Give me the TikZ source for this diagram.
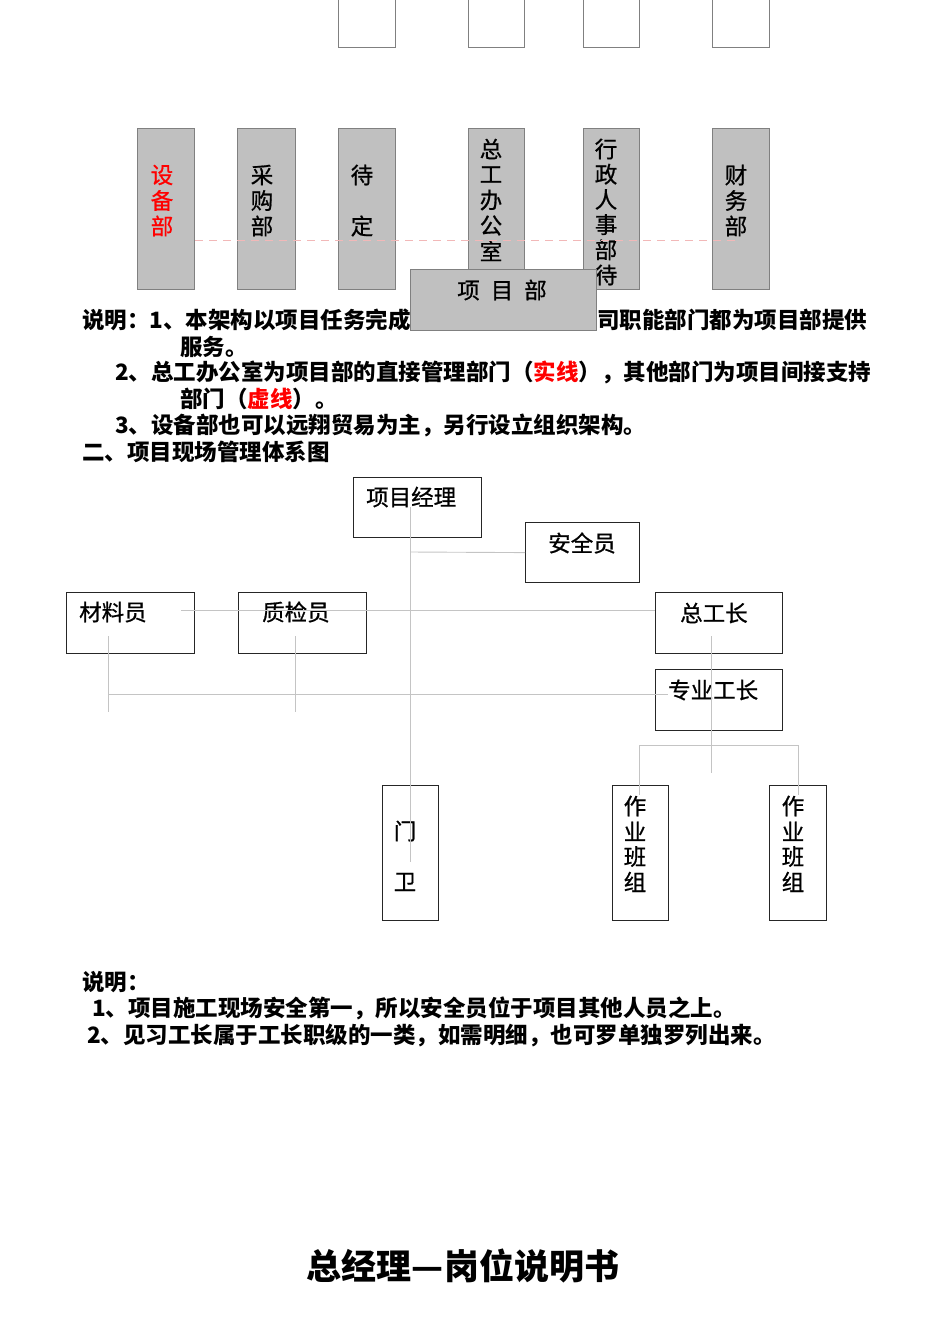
\documentclass[tikz,border=0pt]{standalone}
\usepackage{fontspec}
\setmainfont{Noto Sans CJK SC}
\newfontfamily\boxfont{Noto Sans CJK SC}[FakeBold=0.8]
\definecolor{boxgray}{HTML}{C0C0C0}
\definecolor{edgegray}{HTML}{808080}
\definecolor{linegray}{HTML}{C4C4C4}
\definecolor{dashpink}{HTML}{F2B8B8}
\definecolor{redtxt}{HTML}{FF0000}
\tikzset{
  graybox/.style={draw=edgegray, fill=boxgray, line width=1.4pt, anchor=north west, inner sep=0},
  topbox/.style={draw=edgegray, fill=white, line width=1.2pt, anchor=north west, inner sep=0},
  orgbox/.style={draw=black!85, fill=white, line width=1.2pt, anchor=north west, inner sep=0},
  conn/.style={draw=linegray, line width=0.9pt},
  dashline/.style={draw=dashpink, line width=0.9pt, dash pattern=on 8pt off 6pt},
  txt/.style={font=\fontsize{22.5}{26}\selectfont\boxfont, inner sep=0},
  note/.style={font=\fontsize{22.5}{26}\selectfont\bfseries, inner sep=0, anchor=west},
  title/.style={font=\fontsize{35}{40}\selectfont\bfseries, inner sep=0}
}
\begin{document}
\begin{tikzpicture}[x=1pt,y=-1pt]
\useasboundingbox (0,0) rectangle (950,1344);
% top cut boxes
\node[topbox, minimum width=57, minimum height=60] (t1) at (338,-13) {};
\node[topbox, minimum width=56, minimum height=60] (t2) at (468,-13) {};
\node[topbox, minimum width=56, minimum height=60] (t3) at (583,-13) {};
\node[topbox, minimum width=57, minimum height=60] (t4) at (712,-13) {};
% gray department boxes
\node[graybox, minimum width=57, minimum height=161] (sb) at (137,128) {};
\node[graybox, minimum width=58, minimum height=161] (cg) at (237,128) {};
\node[graybox, minimum width=57, minimum height=161] (dd) at (338,128) {};
\node[graybox, minimum width=56, minimum height=161] (zg) at (468,128) {};
\node[graybox, minimum width=56, minimum height=161] (xz) at (583,128) {};
\node[graybox, minimum width=57, minimum height=161] (cw) at (712,128) {};
\foreach \c [count=\i] in {设,备,部}
  \node[txt, text=redtxt] (sbt\i) at (162,175+25.5*\i-25.5) {\c};
\foreach \c [count=\i] in {采,购,部}
  \node[txt] (cgt\i) at (262,175+25.5*\i-25.5) {\c};
\node[txt] (ddt1) at (362,175) {待};
\node[txt] (ddt2) at (362,226) {定};
\foreach \c [count=\i] in {总,工,办,公,室}
  \node[txt] (zgt\i) at (491,149+25.5*\i-25.5) {\c};
\begin{scope}
\clip (583,128) rectangle (639,288);
\foreach \c [count=\i] in {行,政,人,事,部,待}
  \node[txt] (xzt\i) at (606,149+25.2*\i-25.2) {\c};
\end{scope}
\foreach \c [count=\i] in {财,务,部}
  \node[txt] (cwt\i) at (736,175+25.5*\i-25.5) {\c};
% dashed indirect line
\coordinate (dl) at (195,240);
\coordinate (dr) at (735,240);
\draw[dashline] (dl) -- (dr);
% notes line 1 (partly covered)
\node[note] (n1a) at (82,320) {说明：1、本架构以项目任务完成};
\node[note] (n1b) at (597,320) {司职能部门都为项目部提供};
% project box
\node[graybox, minimum width=186, minimum height=61] (xm) at (410,269) {};
\node[txt] (xmt) at (502,290) {项\hspace{11pt}目\hspace{11pt}部};
% notes
\node[note] (n2) at (180,347) {服务。};
\node[note] (n3) at (115,372) {2、总工办公室为项目部的直接管理部门（\textcolor{redtxt}{实线}），其他部门为项目间接支持};
\node[note] (n4) at (180,399) {部门（\textcolor{redtxt}{虚线}）。};
\node[note] (n5) at (115,425) {3、设备部也可以远翔贸易为主，另行设立组织架构。};
\node[note] (n6) at (82,452) {二、项目现场管理体系图};
% org chart boxes
\node[orgbox, minimum width=128, minimum height=60] (pm) at (353,477) {};
\node[orgbox, minimum width=114, minimum height=60] (aq) at (525,522) {};
\node[orgbox, minimum width=128, minimum height=61] (cl) at (66,592) {};
\node[orgbox, minimum width=128, minimum height=61] (zj) at (238,592) {};
\node[orgbox, minimum width=127, minimum height=61] (zgz) at (655,592) {};
\node[orgbox, minimum width=127, minimum height=61] (zy) at (655,669) {};
\node[orgbox, minimum width=56, minimum height=135] (mw) at (382,785) {};
\node[orgbox, minimum width=56, minimum height=135] (zb1) at (612,785) {};
\node[orgbox, minimum width=57, minimum height=135] (zb2) at (769,785) {};
% org texts
\node[txt, anchor=west] (pmt) at (366,497) {项目经理};
\node[txt] (aqt) at (582,543) {安全员};
\node[txt, anchor=west] (clt) at (79,612) {材料员};
\node[txt, anchor=west] (zjt) at (262,612) {质检员};
\node[txt, anchor=west] (zgzt) at (680,613) {总工长};
\node[txt, anchor=west] (zyt) at (668,690) {专业工长};
\node[txt] (mwt1) at (405,831) {门};
\node[txt] (mwt2) at (405,882) {卫};
\foreach \c [count=\i] in {作,业,班,组} {
  \node[txt] (zbat\i) at (635,806+25.3*\i-25.3) {\c};
  \node[txt] (zbbt\i) at (793,806+25.3*\i-25.3) {\c};
}
% connector coordinates
\coordinate (pmC) at (410,507);
\coordinate (mwC) at (410,862);
\coordinate (aqJ) at (410,552);
\coordinate (r1L) at (181,610);
\coordinate (r1R) at (655,610);
\coordinate (clA) at (108,636);
\coordinate (clB) at (108,712);
\coordinate (zjA) at (295,636);
\coordinate (zjB) at (295,712);
\coordinate (r2L) at (108,694);
\coordinate (r2R) at (668,694);
\coordinate (zgA) at (711,636);
\coordinate (zgB) at (711,773);
\coordinate (bL) at (639,745);
\coordinate (bR) at (798,745);
\coordinate (bLd) at (639,795);
\coordinate (bRd) at (798,795);
% connectors
\draw[conn] (pmC) -- (mwC);
\draw[conn] (aqJ) -- (aq.west);
\draw[conn] (r1L) -- (r1R);
\draw[conn] (clA) -- (clB);
\draw[conn] (zjA) -- (zjB);
\draw[conn] (r2L) -- (r2R);
\draw[conn] (zgA) -- (zgB);
\draw[conn] (bLd) -- (bL) -- (bR) -- (bRd);
% bottom notes
\node[note] (b1) at (82,982) {说明：};
\node[note] (b2) at (92,1008) {1、项目施工现场安全第一，所以安全员位于项目其他人员之上。};
\node[note] (b3) at (87,1035) {2、见习工长属于工长职级的一类，如需明细，也可罗单独罗列出来。};
% title
\node[title] (ttl) at (463,1266) {总经理—岗位说明书};
\end{tikzpicture}
\end{document}
